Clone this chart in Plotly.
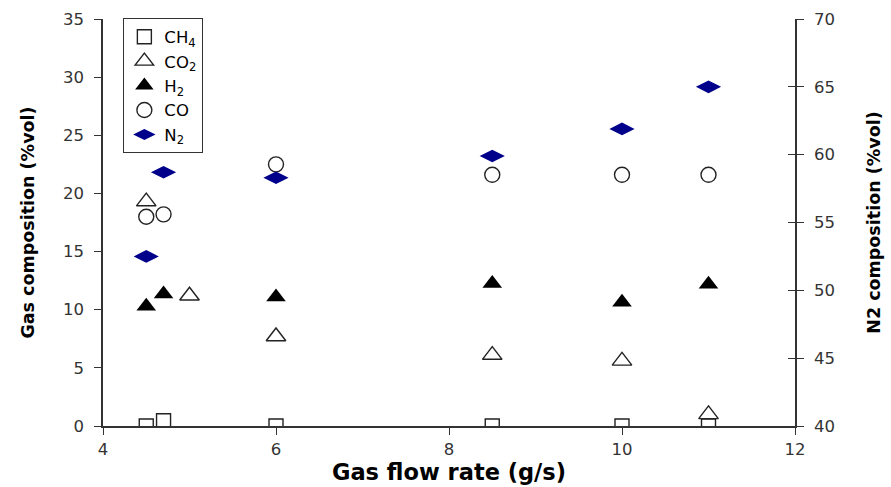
import plotly.graph_objects as go

# Gas flow rate (g/s) and measured gas compositions (%vol)
ch4_x = [4.5, 4.7, 6.0, 8.5, 10.0, 11.0]
ch4 = [0.0, 0.45, 0.0, 0.0, 0.0, 0.0]
co2_x = [4.5, 5.0, 6.0, 8.5, 10.0, 11.0]
co2 = [19.3, 11.2, 7.7, 6.1, 5.6, 1.0]
h2_x = [4.5, 4.7, 6.0, 8.5, 10.0, 11.0]
h2 = [10.3, 11.35, 11.1, 12.25, 10.65, 12.2]
co_x = [4.5, 4.7, 6.0, 8.5, 10.0, 11.0]
co = [18.0, 18.2, 22.5, 21.6, 21.6, 21.6]
n2_x = [4.5, 4.7, 6.0, 8.5, 10.0, 11.0]
n2 = [52.5, 58.7, 58.3, 59.9, 61.9, 65.0]

x_ticks = [4, 6, 8, 10, 12]
left_ticks = [0, 5, 10, 15, 20, 25, 30, 35]
right_ticks = [40, 45, 50, 55, 60, 65, 70]

FONT = "DejaVu Sans, sans-serif"
TITLE_FONT = dict(family=FONT, size=17.5, color="black", weight="bold")
fig = go.Figure()

fig.add_trace(go.Scatter(
    x=ch4_x, y=ch4, mode="markers", name="CH<sub>4</sub>",
    marker=dict(symbol="square-open", size=14, color="#222", line=dict(width=1.4)),
))
fig.add_trace(go.Scatter(
    x=co2_x, y=co2, mode="markers", name="CO<sub>2</sub>",
    marker=dict(symbol="triangle-up-open", size=17, color="#222", line=dict(width=1.4)),
))
fig.add_trace(go.Scatter(
    x=h2_x, y=h2, mode="markers", name="H<sub>2</sub>",
    marker=dict(symbol="triangle-up", size=17, color="black"),
))
fig.add_trace(go.Scatter(
    x=co_x, y=co, mode="markers", name="CO",
    marker=dict(symbol="circle-open", size=15, color="#222", line=dict(width=1.4)),
))
fig.add_trace(go.Scatter(
    x=n2_x, y=n2, mode="markers", name="N<sub>2</sub>", yaxis="y2",
    marker=dict(symbol="diamond-wide", size=18, color="#00008B"),
))
# helper trace so the right axis also gets inward ticks (cross-style ticks)
fig.add_trace(go.Scatter(
    x=[None], y=[None], yaxis="y3", showlegend=False, hoverinfo="skip",
))

axis_common = dict(
    showgrid=False, zeroline=False, showline=True, linecolor="#333", linewidth=1.5,
    ticks="outside", ticklen=7, tickcolor="#333", tickwidth=1.2, automargin=False,
    tickfont=dict(family=FONT, size=16.5, color="#333"),
)

fig.update_layout(
    width=891, height=487,
    margin=dict(l=103, r=96, t=19, b=61),
    paper_bgcolor="white", plot_bgcolor="white",
    font=dict(family=FONT, color="black"),
    xaxis=dict(
        range=[4, 12], tickvals=x_ticks, **axis_common,
        title=dict(text="Gas flow rate (g/s)",
                   font=dict(family=FONT, size=22.5, color="black", weight="bold"), standoff=5),
    ),
    yaxis=dict(
        range=[0, 35], tickvals=left_ticks, ticklabelstandoff=7, **axis_common,
        title=dict(text="Gas composition (%vol)", font=TITLE_FONT, standoff=24),
    ),
    yaxis2=dict(
        range=[40, 70], tickvals=right_ticks, overlaying="y", side="right",
        ticklabelstandoff=7, **axis_common,
        title=dict(text="N2 composition (%vol)", font=TITLE_FONT, standoff=34),
    ),
    yaxis3=dict(
        range=[40, 70], tickvals=right_ticks, overlaying="y", side="right",
        showgrid=False, zeroline=False, showline=False, showticklabels=False,
        ticks="inside", ticklen=7, tickcolor="#333", tickwidth=1.2,
    ),
    legend=dict(
        x=0.029, y=1.002, xanchor="left", yanchor="top",
        bgcolor="white", bordercolor="#333", borderwidth=1.3,
        font=dict(family=FONT, size=16.5, color="black"),
        tracegroupgap=0, itemsizing="trace", itemwidth=30,
    ),
    showlegend=True,
)

fig.write_html("out.html")
